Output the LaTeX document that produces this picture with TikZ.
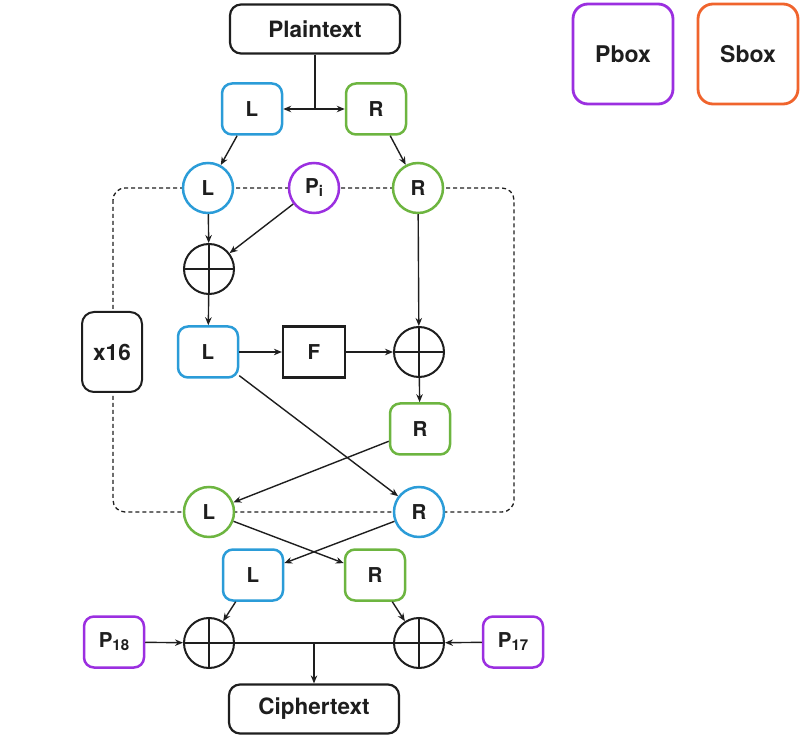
\documentclass[tikz,border=0pt]{standalone}
\usepackage{fontspec}
\setmainfont{TeX Gyre Heros}
\usetikzlibrary{arrows.meta,calc}
\definecolor{cblue}{HTML}{2B9CD8}
\definecolor{cgreen}{HTML}{6DB540}
\definecolor{cpurple}{HTML}{9B2FE0}
\definecolor{corange}{HTML}{F0642D}
\definecolor{cdark}{HTML}{1E1E1E}
\newcommand{\subtxt}[1]{\raisebox{-3pt}{\fontsize{15}{15}\selectfont #1}}
\tikzset{
  base/.style={font=\bfseries\fontsize{20.5}{22}\selectfont, text=cdark, fill=white, inner sep=0pt},
  rbox/.style={base, rectangle, rounded corners=10pt, line width=2.5pt, minimum width=60pt, minimum height=51pt},
  cnode/.style={base, circle, line width=2.5pt, minimum size=50pt},
  xornode/.style={circle, draw=cdark, line width=2pt, minimum size=50pt, fill=white, inner sep=0pt},
  bigbox/.style={base, rectangle, rounded corners=11pt, draw=cdark, line width=2.2pt, minimum width=170pt, minimum height=49pt, font=\bfseries\fontsize{22.5}{24}\selectfont},
  keybox/.style={base, rectangle, rounded corners=15pt, line width=2.8pt, minimum size=100pt, font=\bfseries\fontsize{23}{25}\selectfont},
  conn/.style={draw=cdark, line width=1.4pt},
  arr/.style={conn, -{Stealth[length=8pt,width=6.5pt]}},
}
\begin{document}
\begin{tikzpicture}[x=1pt,y=-1pt]
\useasboundingbox (0,0) rectangle (804,743);
% dashed round loop
\draw[dashed, dash pattern=on 4pt off 3pt, line width=1.3pt, draw=cdark, rounded corners=12pt] (113,188) rectangle (514,512);
% nodes
\node[bigbox] (pt) at (315,29) {Plaintext};
\node[rbox, draw=cblue] (Lt) at (252,109) {L};
\node[rbox, draw=cgreen] (Rt) at (376,109) {R};
\node[cnode, draw=cblue] (Lc) at (208,188) {L};
\node[cnode, draw=cpurple] (Pi) at (314,188) {P\subtxt{i}};
\node[cnode, draw=cgreen] (Rc) at (418,188) {R};
\node[xornode] (x1) at (209,269) {};
\node[rbox, draw=cblue] (Lm) at (208,352) {L};
\node[base, rectangle, draw=cdark, line width=2.2pt, minimum width=62pt, minimum height=51pt] (F) at (314,352) {F};
\node[xornode] (x2) at (419,352) {};
\node[rbox, draw=cgreen] (Rm) at (420,429) {R};
\node[base, rectangle, rounded corners=12pt, draw=cdark, line width=2pt, minimum width=60pt, minimum height=80pt, font=\bfseries\fontsize{22.5}{24}\selectfont] (x16) at (112,352) {x16};
\node[cnode, draw=cgreen] (Lb) at (209,512) {L};
\node[cnode, draw=cblue] (Rb) at (419,512) {R};
\node[rbox, draw=cblue] (Lo) at (253,575) {L};
\node[rbox, draw=cgreen] (Ro) at (375,575) {R};
\node[rbox, draw=cpurple] (P18) at (114,642) {P\subtxt{18}};
\node[xornode] (x3) at (209,643) {};
\node[xornode] (x4) at (419,643) {};
\node[rbox, draw=cpurple] (P17) at (513,642) {P\subtxt{17}};
\node[bigbox] (ct) at (314,709) {Ciphertext};
\node[keybox, draw=cpurple] (pbox) at (623,54) {Pbox};
\node[keybox, draw=corange] (sbox) at (748,54) {Sbox};
% xor crosses
\foreach \n in {x1,x2,x3,x4}{
  \draw[conn, line width=2pt] (\n.north) -- (\n.south);
  \draw[conn, line width=2pt] (\n.west) -- (\n.east);
}
% connectors
\coordinate (j) at (pt.south |- Lt.east);
\draw[conn] (pt.south) -- (j);
\draw[arr] (j) -- (Lt.east);
\draw[arr] (j) -- (Rt.west);
\draw[arr] (Lt) -- (Lc);
\draw[arr] (Rt) -- (Rc);
\draw[arr] (Lc) -- (x1);
\draw[arr] (Pi) -- (x1);
\draw[arr] (x1) -- (Lm);
\draw[arr] (Lm) -- (F);
\draw[arr] (F) -- (x2);
\draw[arr] (Rc) -- (x2);
\draw[arr] (x2) -- (Rm);
\draw[arr] (Rm) -- (Lb);
\draw[arr] (Lm) -- (Rb);
\draw[arr] (Lb) -- (Ro);
\draw[arr] (Rb) -- (Lo);
\draw[arr] (Lo) -- (x3);
\draw[arr] (Ro) -- (x4);
\draw[arr] (P18) -- (x3);
\draw[arr] (P17) -- (x4);
\draw[conn] (x3.east) -- (x4.west);
\coordinate (m) at ($(x3.east)!0.5!(x4.west)$);
\draw[arr] (m) -- (ct.north -| m);
\end{tikzpicture}
\end{document}
